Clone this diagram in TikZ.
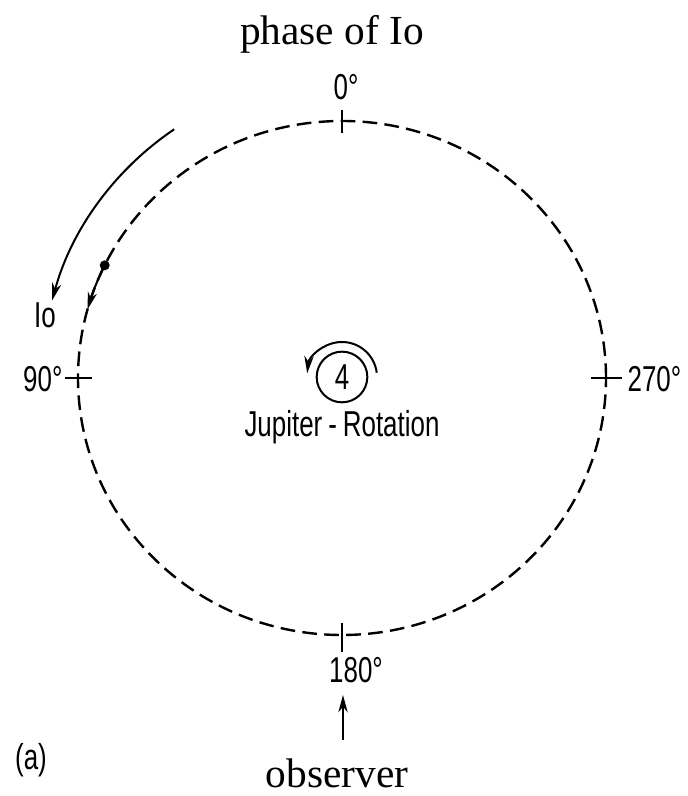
\documentclass[tikz,border=0pt]{standalone}
\usepackage{fontspec}
\setmainfont{Liberation Serif}
\newfontfamily\dinfont{Liberation Sans}[FakeStretch=0.72]
\usepackage{tikz}
\usetikzlibrary{positioning,arrows.meta,calc}

\begin{document}
\begin{tikzpicture}[x=0.75pt,y=0.75pt,
 orbit/.style={line width=1.8pt,dash pattern=on 11pt off 5.5pt},
 tick/.style={line width=1.5pt},
 lab/.style={font=\dinfont\fontsize{27}{30}\selectfont,inner sep=1pt},
 captext/.style={font=\fontsize{31}{35}\selectfont,inner sep=0pt,anchor=base},
 arr/.style={-{Stealth[length=13pt,width=7pt]},line width=1.5pt}]
\useasboundingbox (0,0) rectangle (688,796);
\coordinate (jup) at (342,418);
% orbit of Io
\draw[orbit] (jup) ellipse [x radius=264,y radius=257];
\draw[tick] ($(jup)+(0,245)$) -- ($(jup)+(0,268)$);
\draw[tick] ($(jup)+(0,-274)$) -- ($(jup)+(0,-245)$);
\draw[tick] ($(jup)+(-277,0)$) -- ($(jup)+(-250,0)$);
\draw[tick] ($(jup)+(249,0)$) -- ($(jup)+(280,0)$);
\node[lab] (deg0) at (346,709) {0°};
\node[lab,anchor=east] (deg90) at (64,417) {90°};
\node[lab,anchor=west] (deg270) at (626,417) {270°};
\node[lab] (deg180) at (356,126) {180°};
% Io on its orbit
\coordinate (io) at ($(jup)+(154:264 and 257)$);
\fill (io) circle (5);
\draw[arr] (io) arc [start angle=154,end angle=164.5,x radius=264,y radius=257];
\draw[arr] ($(jup)+(124:300)$) arc [start angle=124,end angle=165,radius=300];
\node[lab] (iolab) at (45,481) {Io};
% rotation of Jupiter
\node[lab,draw,circle,line width=1.5pt,minimum size=38,inner sep=0pt] (four) at (342,419) {4};
\draw[arr] ($(four)+(7:35)$) arc [start angle=7,end angle=174,radius=35];
\node[lab,anchor=base] (rot) at (342,359) {Jupiter\,-\,Rotation};
% observer
\coordinate (obsfoot) at (343,56);
\coordinate (obstip) at (343,101);
\draw[arr] (obsfoot) -- (obstip);
\node[captext] (title) at (332,751) {phase of Io};
\node[captext] (observer) at (337,8) {observer};
\node[lab] (panel) at (31,36) {(a)};
\end{tikzpicture}
\end{document}
